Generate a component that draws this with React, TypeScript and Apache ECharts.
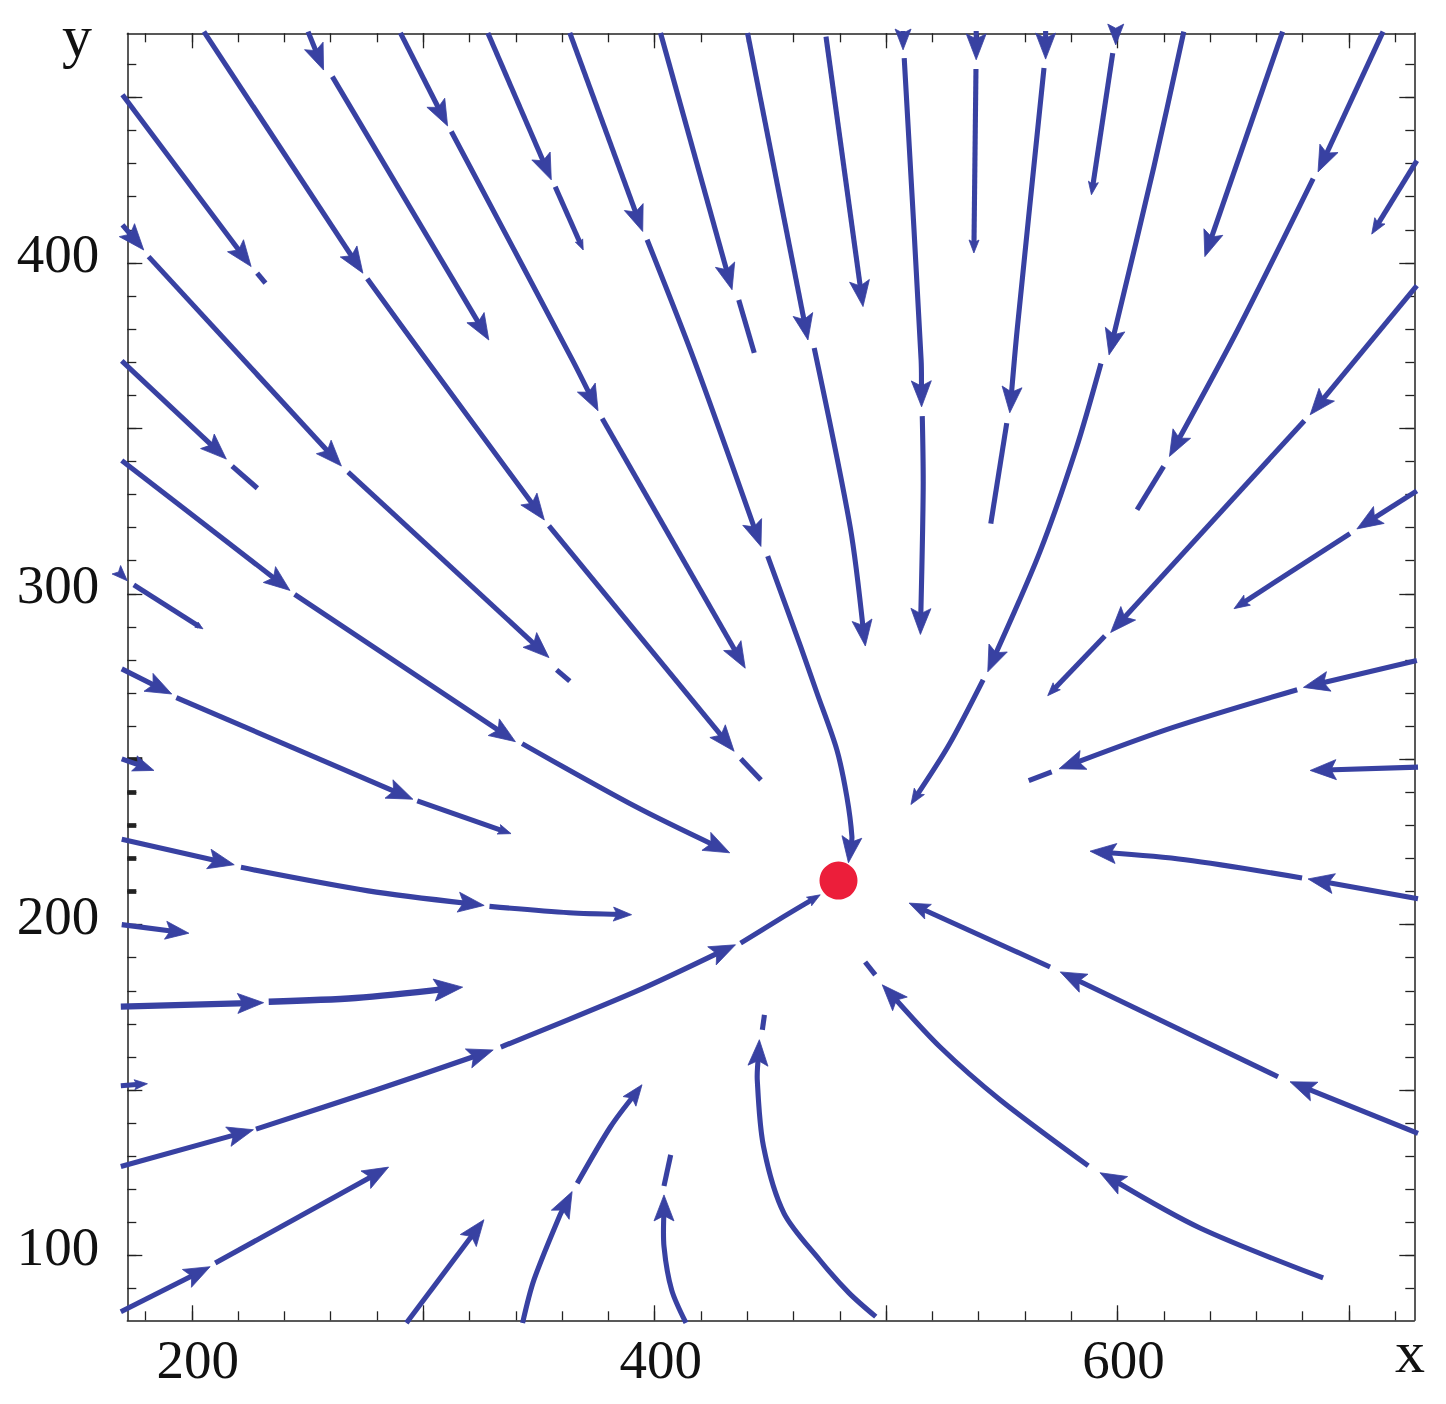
import React, { useEffect, useRef } from "react";
import * as echarts from "echarts";

// Axis ranges (data units)
const X_MIN = 172.1;
const X_MAX = 728.2;
const Y_MIN = 80.4;
const Y_MAX = 469.4;

// Tick values
const xMinorTicks = [180, 200, 220, 240, 260, 280, 300, 320, 340, 360, 380, 400, 420, 440, 460, 480, 500, 520, 540, 560, 580, 600, 620, 640, 660, 680, 700, 720];
const xMajorTicks = [200, 300, 400, 500, 600, 700];
const xTickLabels = [200, 400, 600];
const yMinorTicks = [90, 100, 110, 120, 130, 140, 150, 160, 170, 180, 190, 200, 210, 220, 230, 240, 250, 260, 270, 280, 290, 300, 310, 320, 330, 340, 350, 360, 370, 380, 390, 400, 410, 420, 430, 440, 450, 460];
const yMajorTicks = [100, 150, 200, 250, 300, 350, 400, 450];
const yTickLabels = [100, 200, 300, 400];
const yBoldTicks = [210, 220, 230, 240];
const yBoldMajorTicks = [250];

// Equilibrium point
const fixedPoint: [number, number] = [479.4, 213.3];

// Streamlines: each streamline is a list of segments (points in flow order)
type Pt = [number, number];
const streamlines: Pt[][][] = [
  [[[170.0, 450.8], [225.6, 398.9]], [[228.2, 396.9], [231.8, 393.9]]],
  [[[170.0, 411.5], [179.2, 403.9]], [[181.3, 401.9], [264.6, 338.6]], [[267.5, 336.8], [354.3, 280.7]], [[357.6, 277.0], [363.3, 273.6]]],
  [[[169.7, 370.4], [214.9, 340.7]], [[217.4, 338.6], [228.3, 331.9]]],
  [[[169.7, 340.3], [242.4, 301.0]], [[244.4, 299.8], [339.8, 255.3]], [[342.7, 254.7], [391.9, 235.6], [432.4, 221.7]]],
  [[[169.7, 305.6], [172.1, 303.9]], [[174.9, 302.7], [204.8, 289.4]]],
  [[[169.7, 277.3], [191.3, 269.7]], [[193.3, 268.6], [295.5, 237.9]], [[297.4, 237.4], [337.9, 227.5]]],
  [[[169.7, 250.1], [183.6, 246.6]]],
  [[[169.7, 225.8], [218.3, 218.1]], [[221.2, 217.3], [276.2, 210.2], [326.3, 205.8]], [[328.6, 205.5], [363.0, 203.6], [390.0, 203.0]]],
  [[[169.7, 200.0], [198.7, 197.4]]],
  [[[169.3, 175.2], [231.0, 176.4]], [[233.2, 176.7], [270.7, 177.8], [317.0, 181.1]]],
  [[[169.3, 151.3], [180.8, 151.9]]],
  [[[169.3, 126.9], [226.6, 138.0]], [[227.7, 138.2], [279.5, 150.0], [330.2, 162.1]], [[333.5, 163.0], [391.9, 179.8], [434.9, 193.9]], [[437.1, 194.4], [455.7, 202.4], [471.5, 209.0]]],
  [[[169.3, 83.0], [207.9, 96.6]], [[210.1, 97.7], [285.0, 126.7]]],
  [[[292.7, 79.6], [326.2, 110.8]]],
  [[[342.9, 79.6], [347.8, 92.6], [358.8, 111.8], [364.3, 119.3]], [[366.5, 121.8], [380.9, 138.9], [394.5, 151.6]]],
  [[[413.5, 79.6], [407.3, 89.6], [404.0, 102.7], [404.0, 118.3]], [[404.0, 121.0], [406.9, 130.4]]],
  [[[495.5, 81.5], [483.9, 88.7], [471.2, 98.7], [455.8, 112.8], [447.0, 132.9], [444.3, 153.1], [445.2, 165.2]], [[446.5, 168.2], [447.4, 172.7]]],
  [[[688.8, 93.2], [635.6, 108.3], [592.4, 125.0]], [[587.3, 127.1], [549.3, 147.0], [523.3, 163.0], [498.3, 181.8]], [[495.3, 184.8], [490.9, 188.7]]],
  [[[729.8, 136.9], [674.5, 152.5]], [[669.3, 154.0], [575.2, 185.7]], [[570.8, 187.2], [509.9, 206.5]]],
  [[[729.8, 207.8], [682.3, 213.8]], [[679.7, 214.1], [629.2, 219.6], [588.1, 222.2]]],
  [[[729.8, 247.6], [683.2, 246.6]]],
  [[[729.3, 279.8], [680.3, 271.7]], [[677.6, 271.0], [624.0, 259.6], [574.7, 247.1]], [[571.5, 246.2], [561.6, 243.5]]],
  [[[729.3, 331.1], [703.4, 319.6]], [[700.4, 318.2], [650.3, 295.5]]],
  [[[729.3, 393.1], [683.2, 354.1]], [[680.7, 352.3], [597.0, 288.3]], [[594.5, 287.2], [569.8, 269.2]]],
  [[[729.3, 430.9], [709.8, 408.7]]],
  [[[714.7, 469.9], [686.6, 427.5]], [[684.5, 425.5], [651.9, 379.8], [622.4, 341.5]], [[619.9, 338.5], [608.4, 325.4]]],
  [[[671.3, 469.9], [637.7, 401.9]]],
  [[[628.6, 469.9], [615.7, 429.1], [596.3, 372.2]], [[592.8, 369.6], [582.1, 343.9], [566.5, 312.8], [543.9, 276.4]], [[541.9, 274.0], [527.1, 254.3], [510.7, 236.3]]],
  [[[599.2, 470.1], [599.2, 465.9]], [[597.9, 463.4], [588.7, 420.6]]],
  [[[568.9, 470.1], [568.9, 461.6]], [[568.2, 458.9], [556.6, 379.8], [553.4, 354.7]], [[552.1, 351.6], [545.2, 321.2]]],
  [[[538.9, 470.1], [538.9, 461.4]], [[538.8, 458.6], [537.9, 403.0]]],
  [[[507.3, 470.1], [507.3, 464.4]], [[507.8, 461.9], [515.1, 370.7], [515.3, 356.5]], [[515.6, 353.7], [516.0, 332.0], [514.8, 287.7]]],
  [[[474.0, 468.4], [490.0, 386.8]]],
  [[[440.1, 469.5], [466.2, 376.7]], [[468.9, 374.3], [484.5, 320.0], [491.0, 284.2]]],
  [[[402.5, 469.5], [433.4, 391.9]], [[436.3, 388.8], [443.0, 372.8]]],
  [[[363.3, 469.5], [394.8, 409.5]], [[396.7, 407.0], [417.0, 370.7], [445.9, 314.3]], [[448.8, 311.4], [462.9, 284.3], [470.1, 270.0], [478.7, 252.8], [483.0, 238.7], [485.2, 226.6], [483.7, 218.7]]],
  [[[327.9, 469.5], [355.3, 425.1]], [[357.0, 423.0], [369.1, 403.9]]],
  [[[290.1, 469.5], [310.5, 441.4]], [[312.1, 439.7], [364.4, 370.7], [375.5, 355.3]], [[377.3, 353.0], [439.1, 277.5]]],
  [[[250.2, 469.9], [256.9, 458.3]], [[260.7, 456.3], [328.3, 376.7]]],
  [[[205.2, 469.9], [273.9, 396.9]], [[275.8, 395.2], [301.3, 370.7], [352.3, 322.3]], [[354.3, 320.5], [434.3, 252.4]], [[437.2, 250.1], [445.9, 243.7]]],
];

// Arrowhead scale at the end of each segment (0 = no arrowhead)
const arrowScales: number[][] = [
  [1, 0],
  [1, 1, 1, 0],
  [1, 0],
  [1, 1, 1],
  [0.6, 0.3],
  [1, 1, 0.5],
  [0.8],
  [1, 1, 0.7],
  [0.9],
  [1, 1.1],
  [0.5],
  [1, 1, 1, 0.5],
  [1, 1],
  [1],
  [1, 0.8],
  [1, 0],
  [1, 0],
  [1, 1, 0],
  [1, 1, 0.8],
  [1, 1],
  [1],
  [1, 1, 0],
  [1, 0.6],
  [1, 1, 0.5],
  [0.6],
  [1, 1, 0],
  [1],
  [1, 1, 0.6],
  [0.8, 0.5],
  [1, 1, 0],
  [1, 0.5],
  [0.8, 1, 1],
  [1],
  [1, 1],
  [1, 0],
  [1, 1, 1],
  [1, 0.4],
  [1, 1, 1],
  [1, 1],
  [1, 1, 1, 0],
];

// Line width of each streamline (one of them is drawn bolder in the reference)
const lineWidths: number[] = streamlines.map((_, i) => (i === 9 ? 6.4 : 5.1));

const STREAM_COLOR = "#3841a2";
const DOT_COLOR = "#ec1e3a";
const FRAME_COLOR = "#222222";
const FONT = "'Liberation Serif', 'Times New Roman', serif";
const ARROW_LEN = 26;
const ARROW_HALF = 10;

export default function App() {
  const ref = useRef<HTMLDivElement>(null);

  useEffect(() => {
    if (!ref.current) return;
    const chart = echarts.init(ref.current, null, { renderer: "svg" });

    const renderItem = (params: any, api: any) => {
      const idx = params.dataIndex;
      const segs = streamlines[idx];
      const scales = arrowScales[idx] || [];
      const lw = lineWidths[idx];
      const children: any[] = [];
      segs.forEach((seg, si) => {
        const pts: number[][] = seg.map((p) => api.coord(p));
        const s = scales[si] ?? 1;
        let arrow: number[][] | null = null;
        if (s > 0 && pts.length >= 2) {
          const tip = pts[pts.length - 1];
          const prev = pts[pts.length - 2];
          let dx = tip[0] - prev[0];
          let dy = tip[1] - prev[1];
          const len = Math.hypot(dx, dy) || 1;
          dx /= len;
          dy /= len;
          const L = ARROW_LEN * s;
          const W = ARROW_HALF * s;
          const bx = tip[0] - dx * L;
          const by = tip[1] - dy * L;
          const nx = tip[0] - dx * L * 0.8;
          const ny = tip[1] - dy * L * 0.8;
          arrow = [
            [tip[0], tip[1]],
            [bx - dy * W, by + dx * W],
            [nx, ny],
            [bx + dy * W, by - dx * W],
          ];
          const cut = Math.min(L * 0.6, len * 0.9);
          pts[pts.length - 1] = [tip[0] - dx * cut, tip[1] - dy * cut];
        }
        children.push({
          type: "polyline",
          shape: { points: pts, smooth: pts.length > 2 ? 0.3 : 0 },
          style: { stroke: STREAM_COLOR, lineWidth: lw, fill: null, lineJoin: "round" },
        });
        if (arrow) {
          children.push({
            type: "polygon",
            shape: { points: arrow },
            style: { fill: STREAM_COLOR, stroke: STREAM_COLOR, lineWidth: 0.8, lineJoin: "miter" },
          });
        }
      });
      return { type: "group", children };
    };

    const baseX = {
      type: "value",
      min: X_MIN,
      max: X_MAX,
      splitLine: { show: false },
    };
    const baseY = {
      type: "value",
      min: Y_MIN,
      max: Y_MAX,
      splitLine: { show: false },
    };
    const lineOn = { show: true, onZero: false, lineStyle: { color: FRAME_COLOR, width: 1.5 } };
    const lineOff = { show: false, onZero: false };

    chart.setOption({
      animation: false,
      backgroundColor: "#ffffff",
      grid: { left: 127.3, top: 33.3, right: 31.7, bottom: 83.7, containLabel: false },
      xAxis: [
        {
          ...baseX,
          position: "bottom",
          axisLine: lineOn,
          axisTick: { show: true, inside: true, length: 9, customValues: xMinorTicks, lineStyle: { color: FRAME_COLOR, width: 1.3 } },
          axisLabel: {
            show: true,
            customValues: xTickLabels,
            fontFamily: FONT,
            fontSize: 55,
            color: "#111",
            margin: 12,
            padding: [0, 0, 0, 12],
          },
        },
        {
          ...baseX,
          position: "bottom",
          axisLine: lineOff,
          axisTick: { show: true, inside: true, length: 15, customValues: xMajorTicks, lineStyle: { color: FRAME_COLOR, width: 1.3 } },
          axisLabel: { show: false },
        },
        {
          ...baseX,
          position: "top",
          axisLine: lineOn,
          axisTick: { show: true, inside: true, length: 9, customValues: xMinorTicks, lineStyle: { color: FRAME_COLOR, width: 1.3 } },
          axisLabel: { show: false },
        },
        {
          ...baseX,
          position: "top",
          axisLine: lineOff,
          axisTick: { show: true, inside: true, length: 15, customValues: xMajorTicks, lineStyle: { color: FRAME_COLOR, width: 1.3 } },
          axisLabel: { show: false },
        },
      ],
      yAxis: [
        {
          ...baseY,
          position: "left",
          axisLine: lineOn,
          axisTick: { show: true, inside: true, length: 9, customValues: yMinorTicks, lineStyle: { color: FRAME_COLOR, width: 1.3 } },
          axisLabel: {
            show: true,
            customValues: yTickLabels,
            fontFamily: FONT,
            fontSize: 55,
            color: "#111",
            margin: 28,
            verticalAlign: "bottom",
            lineHeight: 18,
          },
        },
        {
          ...baseY,
          position: "left",
          axisLine: lineOff,
          axisTick: { show: true, inside: true, length: 15, customValues: yMajorTicks, lineStyle: { color: FRAME_COLOR, width: 1.3 } },
          axisLabel: { show: false },
        },
        {
          ...baseY,
          position: "left",
          axisLine: lineOff,
          axisTick: { show: true, inside: true, length: 9, customValues: yBoldTicks, lineStyle: { color: FRAME_COLOR, width: 4.7 } },
          axisLabel: { show: false },
        },
        {
          ...baseY,
          position: "left",
          axisLine: lineOff,
          axisTick: { show: true, inside: true, length: 15, customValues: yBoldMajorTicks, lineStyle: { color: FRAME_COLOR, width: 4.7 } },
          axisLabel: { show: false },
        },
        {
          ...baseY,
          position: "right",
          axisLine: lineOn,
          axisTick: { show: true, inside: true, length: 9, customValues: yMinorTicks, lineStyle: { color: FRAME_COLOR, width: 1.3 } },
          axisLabel: { show: false },
        },
        {
          ...baseY,
          position: "right",
          axisLine: lineOff,
          axisTick: { show: true, inside: true, length: 15, customValues: yMajorTicks, lineStyle: { color: FRAME_COLOR, width: 1.3 } },
          axisLabel: { show: false },
        },
      ],
      series: [
        {
          type: "custom",
          name: "streamlines",
          coordinateSystem: "cartesian2d",
          xAxisIndex: 0,
          yAxisIndex: 0,
          silent: true,
          z: 2,
          renderItem,
          encode: { x: 0, y: 1 },
          data: streamlines.map((s, i) => [s[0][0][0], s[0][0][1], i]),
        },
        {
          type: "scatter",
          name: "fixed point",
          xAxisIndex: 0,
          yAxisIndex: 0,
          silent: true,
          z: 3,
          symbol: "circle",
          symbolSize: 38,
          itemStyle: { color: DOT_COLOR, opacity: 1 },
          data: [fixedPoint],
        },
      ],
      graphic: [
        {
          type: "text",
          x: 1410,
          y: 1352,
          style: {
            text: "x",
            fontFamily: FONT,
            fontSize: 60,
            fill: "#111",
            textAlign: "center",
            textVerticalAlign: "middle",
            align: "center",
            verticalAlign: "middle",
          },
        },
        {
          type: "text",
          x: 77,
          y: 36,
          style: {
            text: "y",
            fontFamily: FONT,
            fontSize: 60,
            fill: "#111",
            textAlign: "center",
            textVerticalAlign: "middle",
            align: "center",
            verticalAlign: "middle",
          },
        },
      ],
    });

    return () => {
      chart.dispose();
    };
  }, []);

  return (
    <div
      ref={ref}
      style={{ position: "fixed", left: 0, top: 0, width: 1446, height: 1404, background: "#ffffff" }}
    />
  );
}
